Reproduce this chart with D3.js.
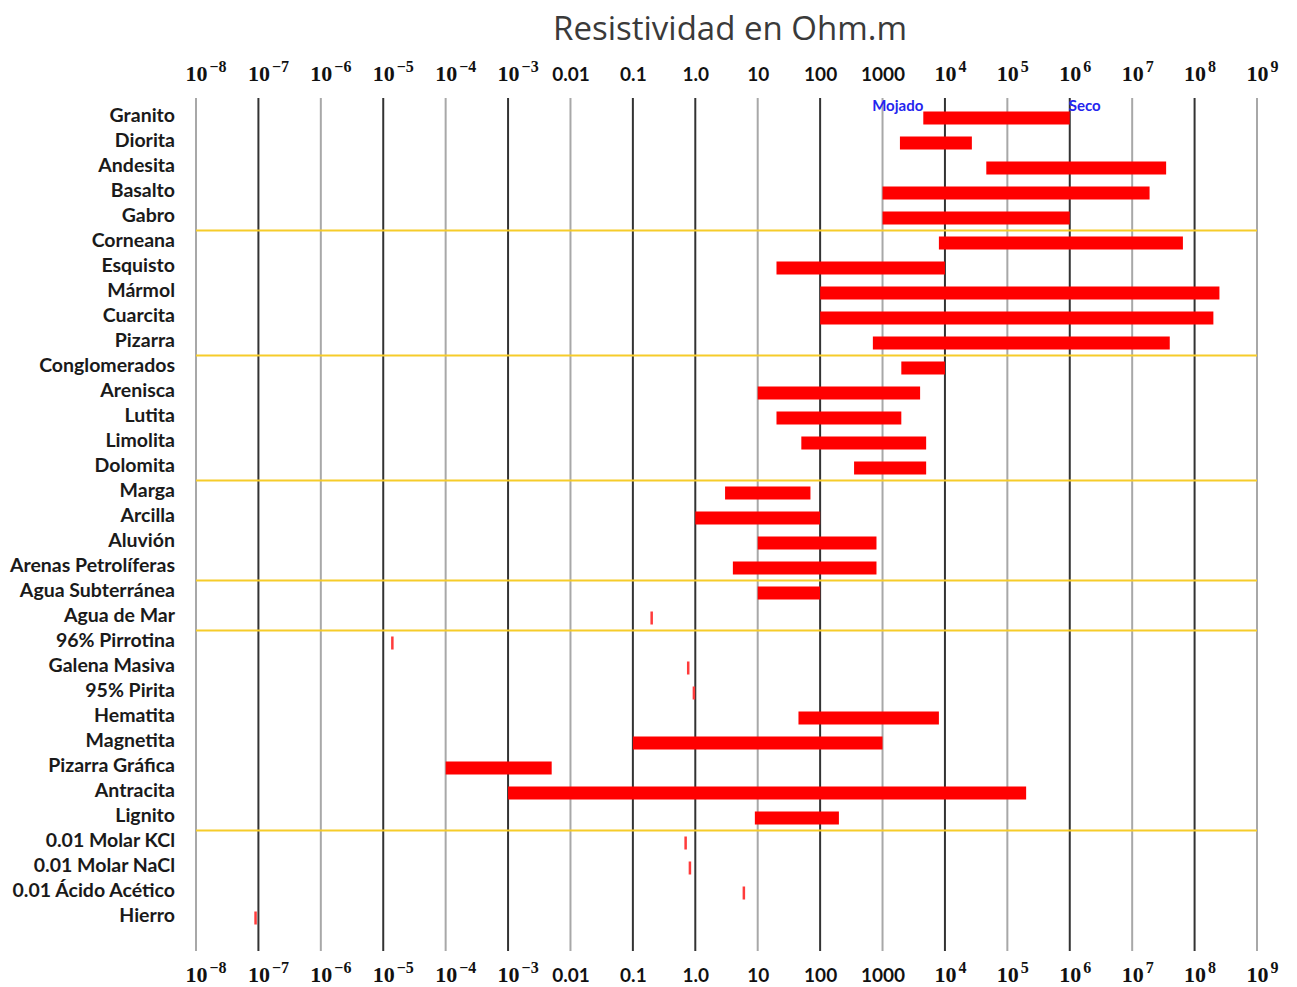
<!DOCTYPE html>
<html>
<head>
<meta charset="utf-8">
<script src="https://cdn.jsdelivr.net/npm/d3@7"></script>
<style>
  html, body { margin: 0; padding: 0; background: #fff; }
  svg { display: block; }
</style>
</head>
<body>
<svg id="chart" width="1297" height="987"></svg>
<script>
// ---- data ----
const categories = [
  "Granito","Diorita","Andesita","Basalto","Gabro",
  "Corneana","Esquisto","Mármol","Cuarcita","Pizarra",
  "Conglomerados","Arenisca","Lutita","Limolita","Dolomita",
  "Marga","Arcilla","Aluvión","Arenas Petrolíferas",
  "Agua Subterránea","Agua de Mar",
  "96% Pirrotina","Galena Masiva","95% Pirita","Hematita","Magnetita",
  "Pizarra Gráfica","Antracita","Lignito",
  "0.01 Molar KCl","0.01 Molar NaCl","0.01 Ácido Acético","Hierro"
];
const minValues = [
  4.5e3, 1.9e3, 4.6e4, 1e3, 1e3,
  8e3, 20, 100, 100, 7e2,
  2e3, 10, 20, 50, 350,
  3, 1, 10, 4,
  10, 0.2,
  1.4e-5, 0.77, 0.95, 45, 0.1,
  1e-4, 1e-3, 9,
  0.7, 0.82, 6, 9e-8
];
const maxValues = [
  1e6, 2.7e4, 3.5e7, 1.9e7, 1e6,
  6.5e7, 1e4, 2.5e8, 2e8, 4e7,
  1e4, 4e3, 2e3, 5e3, 5e3,
  70, 100, 800, 800,
  100, 0.2,
  1.4e-5, 0.77, 0.95, 8e3, 1e3,
  5e-3, 2e5, 200,
  0.7, 0.82, 6, 9e-8
];
const tickExponents = [-8,-7,-6,-5,-4,-3,-2,-1,0,1,2,3,4,5,6,7,8,9];
const plainTickLabels = { "-2": "0.01", "-1": "0.1", "0": "1.0", "1": "10", "2": "100", "3": "1000" };
const groupStarts = ["Corneana","Conglomerados","Marga","Agua Subterránea","96% Pirrotina","0.01 Molar KCl"];
const annotations = [
  { text: "Mojado", category: "Granito", value: 4.5e3, anchor: "end" },
  { text: "Seco", category: "Granito", value: 1e6, anchor: "start" }
];
const title = "Resistividad en Ohm.m";

// ---- layout ----
const svg = d3.select("#chart");
const x = d3.scaleLog().domain([1e-8, 1e9]).range([196, 1257]);
const y = d3.scaleBand().domain(categories).range([105.5, 930.5]).padding(0);
const gridTop = 98, gridBottom = 951;
const darkLines = new Set([-7,-5,-3,-1,0,2,4,6,8]);

// title
svg.append("text")
  .attr("x", 730).attr("y", 40)
  .attr("text-anchor", "middle")
  .attr("font-family", "'Open Sans', sans-serif")
  .attr("font-size", 33)
  .attr("fill", "#3a3a3a")
  .text(title);

// grid lines
svg.append("g").selectAll("line")
  .data(tickExponents)
  .join("line")
  .attr("x1", d => x(Math.pow(10, d)))
  .attr("x2", d => x(Math.pow(10, d)))
  .attr("y1", gridTop).attr("y2", gridBottom)
  .attr("stroke", d => darkLines.has(d) ? "#333" : "#a8a8a8")
  .attr("stroke-width", 2);

// group separators
svg.append("g").selectAll("line")
  .data(groupStarts)
  .join("line")
  .attr("x1", x(1e-8)).attr("x2", x(1e9))
  .attr("y1", d => y(d)).attr("y2", d => y(d))
  .attr("stroke", "#f6cc2a")
  .attr("stroke-width", 2);

// axes
function labelAxis(axisGen, yPos) {
  const g = svg.append("g").attr("transform", `translate(0,${yPos})`)
    .call(axisGen.tickValues(tickExponents.map(e => Math.pow(10, e))).tickFormat("").tickSize(0));
  g.select(".domain").remove();
  g.selectAll(".tick line").remove();
  g.selectAll(".tick text").remove();
  g.selectAll(".tick").each(function(d) {
    const e = Math.round(Math.log10(d));
    const t = d3.select(this).append("text").attr("y", 0).attr("fill", "#111");
    if (plainTickLabels[e] !== undefined) {
      t.attr("text-anchor", "middle")
        .attr("font-family", "Lato, 'Open Sans', sans-serif")
        .attr("font-weight", "bold")
        .attr("font-size", 19)
        .text(plainTickLabels[e]);
    } else {
      t.attr("text-anchor", "start")
        .attr("font-family", "'Liberation Serif', serif")
        .attr("font-weight", "bold");
      t.append("tspan").attr("x", -11).attr("font-size", 22).text("10");
      t.append("tspan").attr("dx", 2).attr("dy", -9).attr("font-size", 16)
        .text(e < 0 ? "\u2212" + Math.abs(e) : String(e));
    }
  });
}
labelAxis(d3.axisTop(x), 81);
labelAxis(d3.axisBottom(x), 982);

// category labels
svg.append("g").selectAll("text")
  .data(categories)
  .join("text")
  .attr("x", 175)
  .attr("y", d => y(d) + y.bandwidth() / 2 + 4)
  .attr("text-anchor", "end")
  .attr("font-family", "Lato, 'Open Sans', sans-serif")
  .attr("font-weight", "bold")
  .attr("font-size", 19.5)
  .attr("fill", "#1a1a1a")
  .text(d => d);

// bars
const rows = categories.map((c, i) => ({ c, lo: minValues[i], hi: maxValues[i] }));
const barH = 13;
svg.append("g").selectAll("rect")
  .data(rows)
  .join("rect")
  .attr("x", d => d.lo === d.hi ? x(d.lo) - 1.25 : x(d.lo))
  .attr("width", d => d.lo === d.hi ? 2.5 : x(d.hi) - x(d.lo))
  .attr("y", d => y(d.c) + (y.bandwidth() - barH) / 2)
  .attr("height", barH)
  .attr("fill", d => d.lo === d.hi ? "#ff3b3b" : "#ff0000");

// annotations
svg.append("g").selectAll("text")
  .data(annotations)
  .join("text")
  .attr("x", d => x(d.value) + (d.anchor === "end" ? 0 : -1))
  .attr("y", d => y(d.category) + 5)
  .attr("text-anchor", d => d.anchor)
  .attr("font-family", "Lato, 'Open Sans', sans-serif")
  .attr("font-weight", "bold")
  .attr("font-size", 15)
  .attr("fill", "#2424ee")
  .text(d => d.text);
</script>
</body>
</html>
